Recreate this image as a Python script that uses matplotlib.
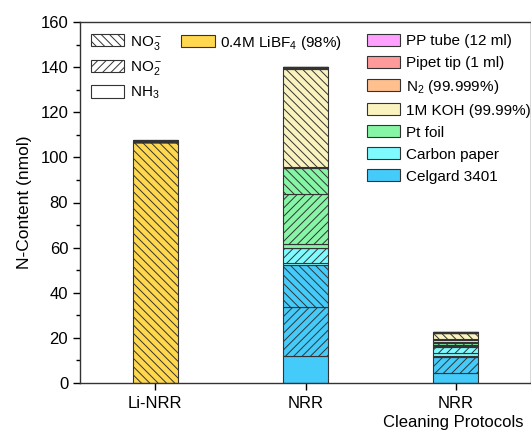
import matplotlib
matplotlib.use("Agg")
import matplotlib.pyplot as plt
from matplotlib.patches import Patch
from matplotlib.ticker import MultipleLocator

plt.rcParams['font.family'] = ['Liberation Sans', 'DejaVu Sans']
plt.rcParams['mathtext.fontset'] = 'custom'
plt.rcParams['mathtext.rm'] = 'Liberation Sans'
plt.rcParams['mathtext.it'] = 'Liberation Sans'
plt.rcParams['mathtext.default'] = 'regular'
plt.rcParams['hatch.linewidth'] = 0.7

# data (nmol), bars: Li-NRR, NRR, NRR (cleaning protocols)
protocols = ['Li-NRR', 'NRR', 'NRR']
materials = ['Celgard 3401', 'Carbon paper', 'Pt foil', '1M KOH (99.99%)',
             'N$_2$ (99.999%)', 'Pipet tip (1 ml)', 'PP tube (12 ml)',
             '0.4M LiBF$_4$ (98%)']
colors = ['#45CBFA', '#7FFBFF', '#86F5A6', '#FAF3C0',
          '#FFC08E', '#FF9A9A', '#FFA0FF', '#FFD84F']

# per material: [NH3, NO2, NO3] for each bar
nh3 = {
    'Celgard 3401': [0, 12.0, 4.3],
    'Carbon paper': [0, 1.0, 1.0],
    'Pt foil': [0, 1.8, 0.5],
    '1M KOH (99.99%)': [0, 0.6, 1.0],
    'N$_2$ (99.999%)': [0.3, 0.3, 0.2],
    'Pipet tip (1 ml)': [0.3, 0.3, 0.2],
    'PP tube (12 ml)': [0.3, 0.3, 0.2],
    '0.4M LiBF$_4$ (98%)': [0, 0, 0],
}
no2 = {
    'Celgard 3401': [0, 21.8, 7.2],
    'Carbon paper': [0, 6.4, 3.0],
    'Pt foil': [0, 21.9, 0.8],
    '1M KOH (99.99%)': [0, 0, 0.4],
    'N$_2$ (99.999%)': [0, 0, 0],
    'Pipet tip (1 ml)': [0, 0, 0],
    'PP tube (12 ml)': [0, 0, 0],
    '0.4M LiBF$_4$ (98%)': [0, 0, 0],
}
no3 = {
    'Celgard 3401': [0, 18.5, 0.6],
    'Carbon paper': [0, 0.3, 0.3],
    'Pt foil': [0, 11.5, 0.4],
    '1M KOH (99.99%)': [0, 43.5, 2.6],
    'N$_2$ (99.999%)': [0, 0, 0],
    'Pipet tip (1 ml)': [0, 0, 0],
    'PP tube (12 ml)': [0, 0, 0],
    '0.4M LiBF$_4$ (98%)': [106.6, 0, 0],
}
species = [('NH$_3$', nh3, ''), ('NO$_2^-$', no2, '////'), ('NO$_3^-$', no3, '\\\\\\\\')]

fig = plt.figure(figsize=(5.31, 4.33), dpi=100)
ax = fig.add_axes([80 / 531, 50 / 433, 451 / 531, 361 / 433])

x = [1, 2, 3]
bottom = [0.0, 0.0, 0.0]
edge = '#333333'
# LiBF4 sits at the bottom of its bar, everything else follows the list order
draw_order = [7, 0, 1, 2, 3, 4, 5, 6]
for i in draw_order:
    mat, col = materials[i], colors[i]
    for name, table, hatch in species:
        vals = table[mat]
        ax.bar(x, vals, width=0.3, bottom=bottom, color=col, edgecolor=edge,
               linewidth=0.8, hatch=hatch)
        bottom = [b + v for b, v in zip(bottom, vals)]

ax.set_xlim(0.5, 3.5)
ax.set_ylim(0, 160)
ax.set_xticks(x)
ax.set_xticklabels(protocols, fontsize=12)
ax.yaxis.set_major_locator(MultipleLocator(20))
ax.yaxis.set_minor_locator(MultipleLocator(10))
ax.tick_params(axis='y', which='major', direction='out', length=5, labelsize=12, width=1)
ax.tick_params(axis='y', which='minor', direction='out', length=3, width=1)
ax.tick_params(axis='x', direction='out', length=5, width=1, pad=4)
ax.set_ylabel('N-Content (nmol)', fontsize=12.5, labelpad=6)
for s in ax.spines.values():
    s.set_linewidth(1)
    s.set_color('#333333')

fig.text(453 / 531, 1 - 423 / 433, 'Cleaning Protocols', fontsize=12,
         ha='center', va='center')

common = dict(frameon=False, fontsize=11, handlelength=2.2, handleheight=0.85,
              handletextpad=0.35, labelspacing=0.5, borderpad=0, borderaxespad=0,
              loc='upper left')

sp_handles = [Patch(facecolor='white', edgecolor=edge, hatch=h, linewidth=0.8)
              for _, _, h in species[::-1]]
sp_labels = [n for n, _, _ in species[::-1]]
leg1 = ax.legend(sp_handles, sp_labels, bbox_to_anchor=(0.024, 0.968), **common)
ax.add_artist(leg1)

leg2 = ax.legend([Patch(facecolor=colors[-1], edgecolor=edge, linewidth=0.8)],
                 [materials[-1]], bbox_to_anchor=(0.224, 0.968), **common)
ax.add_artist(leg2)

mat_handles = [Patch(facecolor=c, edgecolor=edge, linewidth=0.8)
               for c in colors[:-1]][::-1]
leg3 = ax.legend(mat_handles, materials[:-1][::-1], bbox_to_anchor=(0.636, 0.968), **common)

fig.savefig('out.png', dpi=100)
